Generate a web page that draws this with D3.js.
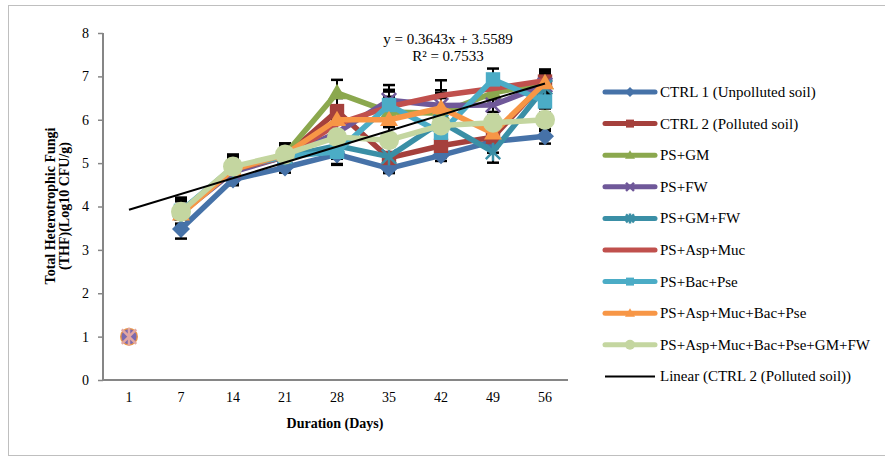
<!DOCTYPE html>
<html><head><meta charset="utf-8">
<script src="https://cdn.jsdelivr.net/npm/d3@7"></script>
<style>body{margin:0;background:#fff}svg{display:block}text{font-family:"Liberation Serif","Times New Roman",serif}</style>
</head><body><svg id="c" width="885" height="462"></svg>
<script>
const days = ["1","7","14","21","28","35","42","49","56"];
const seriesNames = ["CTRL 1 (Unpolluted soil)","CTRL 2 (Polluted soil)","PS+GM","PS+FW","PS+GM+FW","PS+Asp+Muc","PS+Bac+Pse","PS+Asp+Muc+Bac+Pse","PS+Asp+Muc+Bac+Pse+GM+FW"];
const ctrl1 = [1,3.48,4.62,4.9,5.2,4.88,5.18,5.5,5.62];
const ctrl2 = [1,3.85,4.85,5.15,6.2,5.12,5.4,5.6,6.88];
const psGm = [1,3.9,4.85,5.2,6.62,6.18,6.15,6.62,6.85];
const psFw = [1,3.85,4.8,5.15,5.7,6.45,6.33,6.34,6.8];
const psGmFw = [1,3.85,4.85,5.15,5.4,5.15,5.95,5.26,6.75];
const psAspMuc = [1,3.85,4.85,5.15,5.9,6.3,6.56,6.72,6.9];
const psBacPse = [1,3.9,4.9,5.15,5.26,6.34,5.7,6.93,6.42];
const psAmbp = [1,3.82,4.85,5.2,6.0,6.0,6.27,5.69,6.85];
const psAll = [1,3.88,4.92,5.2,5.6,5.53,5.87,5.93,6.0];
const err = [0,0.3,0.28,0.25,0.3,0.35,0.35,0.25,0.26];
const errLow = [0,0.22,0.13,0.12,0.22,0.05,0.05,0.26,0.17];
const yTicks = [0,1,2,3,4,5,6,7,8];
const trendSlope = 0.3643, trendIntercept = 3.5589;
const eqText = ["y = 0.3643x + 3.5589","R² = 0.7533"];

const values = [ctrl1,ctrl2,psGm,psFw,psGmFw,psAspMuc,psBacPse,psAmbp,psAll];
const colors = ["#4672A8","#A5403C","#8BA84E","#6F5899","#3A8FA6","#C0504D","#4BACC6","#F79646","#C4D6A0"];
const markers = ["diamond","square","triangle","x","star","none","square","triangle","circle"];

const svg = d3.select("#c");
svg.append("rect").attr("x",8.5).attr("y",5.5).attr("width",880).attr("height",450).attr("fill","none").attr("stroke","#bfbfbf");

const x = d3.scaleBand().domain(days).range([103,571]);
const y = d3.scaleLinear().domain([0,8]).range([380,33]);
const cx = d => x(d)+x.bandwidth()/2;

// axes
const ya = svg.append("g").attr("transform","translate(103,0)").call(d3.axisLeft(y).tickValues(yTicks).tickSize(5).tickPadding(9).tickFormat(d3.format("d")));
ya.select(".domain").attr("stroke","#868686").attr("stroke-width",2).attr("d","M0,33V380");
ya.selectAll(".tick line").attr("stroke","#868686").attr("stroke-width",1.5);
ya.selectAll("text").attr("font-size",14).attr("fill","#000").style("font-family","Liberation Serif");
const xa = svg.append("g").attr("transform","translate(0,380)").call(d3.axisBottom(x).tickSize(0).tickPadding(12));
xa.select(".domain").attr("stroke","#868686").attr("stroke-width",2).attr("d","M103,0H568");
xa.selectAll("text").attr("font-size",14).attr("fill","#000").style("font-family","Liberation Serif");

svg.append("text").attr("x",335).attr("y",428).attr("text-anchor","middle").attr("font-size",14).attr("font-weight","bold").text("Duration (Days)");
const yt = svg.append("text").attr("transform","translate(55,206) rotate(-90)").attr("text-anchor","middle").attr("font-size",14).attr("font-weight","bold");
yt.append("tspan").attr("x",0).attr("dy",0).text("Total Heterotrophic Fungi");
yt.append("tspan").attr("x",0).attr("dy",14).text("(THF)(Log10 CFU/g)");

// error bars
const eb = svg.append("g").attr("stroke","#000").attr("stroke-width",2);
values.forEach((vals,si)=>{
  vals.forEach((v,i)=>{
    if(i===0) return;
    const e = si===0 ? errLow[i] : err[i];
    if(!e) return;
    const px = cx(days[i]);
    eb.append("line").attr("x1",px).attr("x2",px).attr("y1",y(v-e)).attr("y2",y(v+e));
    [v-e,v+e].forEach(t=>eb.append("line").attr("x1",px-6).attr("x2",px+6).attr("y1",y(t)).attr("y2",y(t)).attr("stroke-width",2.5));
  });
});

function marker(g,type,px,py,col,s){
  if(type==="diamond") g.append("path").attr("d",`M${px},${py-s}L${px+s},${py}L${px},${py+s}L${px-s},${py}Z`).attr("fill",col);
  else if(type==="square") g.append("rect").attr("x",px-s*0.8).attr("y",py-s*0.8).attr("width",s*1.6).attr("height",s*1.6).attr("fill",col);
  else if(type==="triangle") g.append("path").attr("d",`M${px},${py-s}L${px+s},${py+s*0.7}L${px-s},${py+s*0.7}Z`).attr("fill",col);
  else if(type==="circle") g.append("circle").attr("cx",px).attr("cy",py).attr("r",s).attr("fill",col);
  else if(type==="x"){ const d=s*0.8; g.append("path").attr("d",`M${px-d},${py-d}L${px+d},${py+d}M${px+d},${py-d}L${px-d},${py+d}`).attr("stroke",col).attr("stroke-width",2.5);}
  else if(type==="star"){ const d=s*0.8; g.append("path").attr("d",`M${px-d},${py-d}L${px+d},${py+d}M${px+d},${py-d}L${px-d},${py+d}M${px},${py-s}L${px},${py+s}`).attr("stroke",col).attr("stroke-width",2.5);}
}

const line = d3.line().x((d,i)=>cx(days[i+1])).y(d=>y(d));
values.forEach((vals,si)=>{
  const g = svg.append("g");
  g.append("path").attr("d",line(vals.slice(1))).attr("fill","none").attr("stroke",colors[si]).attr("stroke-width",5.5).attr("stroke-linejoin","round");
  const sz = markers[si]==="circle"?10:9;
  vals.forEach((v,i)=>{ if(i>0) marker(g,markers[si],cx(days[i]),y(v),colors[si],sz); });
});

// day-1 stacked markers (orange outline, purple fill, pink cross on top)
const d1 = svg.append("g");
const p1x = cx(days[0]);
d1.append("circle").attr("cx",p1x).attr("cy",y(psAmbp[0])).attr("r",9).attr("fill","#E8954A");
d1.append("circle").attr("cx",p1x).attr("cy",y(psFw[0])).attr("r",7.5).attr("fill","#7C6AAE");
marker(d1,"star",p1x,y(psAspMuc[0]),"#E2A7A3",9);

// trendline
svg.append("line").attr("x1",cx(days[0])).attr("x2",cx(days[8]))
  .attr("y1",y(trendSlope*1+trendIntercept)).attr("y2",y(trendSlope*9+trendIntercept))
  .attr("stroke","#000").attr("stroke-width",2);
svg.append("text").attr("x",448).attr("y",44).attr("text-anchor","middle").attr("font-size",15).text(eqText[0]);
svg.append("text").attr("x",448).attr("y",61).attr("text-anchor","middle").attr("font-size",15).text(eqText[1]);

// legend
const lg = svg.append("g");
const legNames = seriesNames.concat(["Linear (CTRL 2 (Polluted soil))"]);
legNames.forEach((n,i)=>{
  const ly = 92 + i*31.6;
  const col = i<9?colors[i]:"#000";
  lg.append("line").attr("x1",605).attr("x2",655).attr("y1",ly).attr("y2",ly).attr("stroke",col).attr("stroke-width",i<9?5:2).attr("stroke-linecap",i<9?"round":"butt");
  if(i<9) marker(lg,markers[i],630,ly,col,5);
  lg.append("text").attr("x",660).attr("y",ly+5).attr("font-size",15).text(n);
});
</script></body></html>
